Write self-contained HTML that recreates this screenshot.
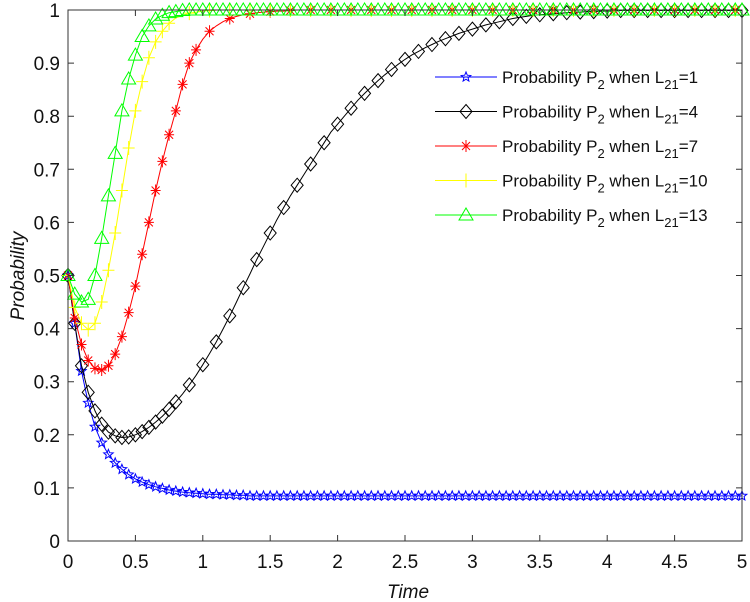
<!DOCTYPE html>
<html><head><meta charset="utf-8"><style>
body{margin:0;background:#fff;}
svg{display:block;font-family:"Liberation Sans",Arial,sans-serif;}
</style></head><body>
<svg id="chart" width="750" height="602" viewBox="0 0 750 602" xmlns="http://www.w3.org/2000/svg">
<rect x="0" y="0" width="750" height="602" fill="#fff"/>
<g id="series"></g>
<g id="axes"></g>
<text x="0" y="0" transform="translate(24,276) rotate(-90)" text-anchor="middle" font-size="19" font-style="italic" fill="#111">Probability</text>
<text x="408" y="598" text-anchor="middle" font-size="19" font-style="italic" fill="#111">Time</text>
<g id="legend"></g>
</svg>
<script>
const times = [0,0.05,0.1,0.15,0.2,0.25,0.3,0.35,0.4,0.45,0.5,0.55,0.6,0.65,0.7,0.75,0.8,0.85,0.9,0.95,
1,1.05,1.1,1.15,1.2,1.25,1.3,1.35,1.4,1.45,1.5,1.55,1.6,1.65,1.7,1.75,1.8,1.85,1.9,1.95,
2,2.05,2.1,2.15,2.2,2.25,2.3,2.35,2.4,2.45,2.5,2.55,2.6,2.65,2.7,2.75,2.8,2.85,2.9,2.95,
3,3.05,3.1,3.15,3.2,3.25,3.3,3.35,3.4,3.45,3.5,3.55,3.6,3.65,3.7,3.75,3.8,3.85,3.9,3.95,
4,4.05,4.1,4.15,4.2,4.25,4.3,4.35,4.4,4.45,4.5,4.55,4.6,4.65,4.7,4.75,4.8,4.85,4.9,4.95,5];
const blueL1 = [0.5,0.41,0.32,0.26,0.215,0.185,0.163,0.147,0.135,0.125,
0.117,0.111,0.106,0.102,0.099,0.096,0.094,0.092,0.091,0.09,
0.089,0.088,0.088,0.087,0.087,0.086,0.086,0.085,0.085,0.085,
0.085,0.085,0.085,0.085,0.085,0.085,0.085,0.085,0.085,0.085,
0.085,0.085,0.085,0.085,0.085,0.085,0.085,0.085,0.085,0.085,
0.085,0.085,0.085,0.085,0.085,0.085,0.085,0.085,0.085,0.085,
0.085,0.085,0.085,0.085,0.085,0.085,0.085,0.085,0.085,0.085,
0.085,0.085,0.085,0.085,0.085,0.085,0.085,0.085,0.085,0.085,
0.085,0.085,0.085,0.085,0.085,0.085,0.085,0.085,0.085,0.085,
0.085,0.085,0.085,0.085,0.085,0.085,0.085,0.085,0.085,0.085,0.085];
const blackL4 = [0.5,0.41,0.33,0.28,0.245,0.22,0.205,0.198,0.195,0.196,
0.2,0.206,0.214,0.224,0.235,0.248,0.262,0.277,0.294,0.312,
0.332,0.353,0.375,0.399,0.424,0.45,0.477,0.503,0.53,0.555,
0.58,0.605,0.628,0.65,0.67,0.69,0.71,0.73,0.75,0.77,
0.785,0.8,0.815,0.83,0.843,0.855,0.867,0.878,0.888,0.898,
0.907,0.915,0.922,0.929,0.935,0.941,0.946,0.951,0.956,0.96,
0.964,0.968,0.972,0.975,0.978,0.981,0.984,0.986,0.988,0.99,
0.991,0.992,0.993,0.994,0.995,0.996,0.996,0.997,0.997,0.998,
0.998,0.998,0.999,0.999,0.999,0.999,0.999,0.999,0.999,0.999,
0.999,0.999,0.999,0.999,0.999,0.999,0.999,0.999,0.999,0.999,0.999];
const redL7 = [0.5,0.42,0.37,0.34,0.325,0.322,0.33,0.352,0.385,0.43,
0.48,0.54,0.6,0.66,0.715,0.765,0.81,0.86,0.9,0.925,
0.945,0.96,0.97,0.978,0.984,0.988,0.991,0.993,0.995,0.996,
0.997,0.998,0.998,0.999,1,1,1,1,1,1,
1,1,1,1,1,1,1,1,1,1, 1,1,1,1,1,1,1,1,1,1, 1,1,1,1,1,1,1,1,1,1,
1,1,1,1,1,1,1,1,1,1, 1,1,1,1,1,1,1,1,1,1, 1,1,1,1,1,1,1,1,1,1, 1];
const yellowL10 = [0.5,0.44,0.41,0.398,0.41,0.45,0.51,0.58,0.66,0.74,
0.81,0.865,0.91,0.94,0.96,0.975,0.985,0.99,0.994,0.996,
0.998,0.999,1,1,1,1,1,1,1,1,
1,1,1,1,1,1,1,1,1,1, 1,1,1,1,1,1,1,1,1,1, 1,1,1,1,1,1,1,1,1,1, 1,1,1,1,1,1,1,1,1,1,
1,1,1,1,1,1,1,1,1,1, 1,1,1,1,1,1,1,1,1,1, 1,1,1,1,1,1,1,1,1,1, 1];
const greenL13 = [0.5,0.465,0.45,0.455,0.5,0.57,0.65,0.73,0.81,0.87,
0.915,0.95,0.97,0.983,0.99,0.995,0.997,0.999,1,1,
1,1,1,1,1,1,1,1,1,1, 1,1,1,1,1,1,1,1,1,1, 1,1,1,1,1,1,1,1,1,1, 1,1,1,1,1,1,1,1,1,1,
1,1,1,1,1,1,1,1,1,1, 1,1,1,1,1,1,1,1,1,1, 1,1,1,1,1,1,1,1,1,1, 1,1,1,1,1,1,1,1,1,1, 1];
const xTicks = [0,0.5,1,1.5,2,2.5,3,3.5,4,4.5,5];
const xTickLabels = ["0","0.5","1","1.5","2","2.5","3","3.5","4","4.5","5"];
const yTicks = [0,0.1,0.2,0.3,0.4,0.5,0.6,0.7,0.8,0.9,1];
const yTickLabels = ["0","0.1","0.2","0.3","0.4","0.5","0.6","0.7","0.8","0.9","1"];
const legendLabels = ["1","4","7","10","13"];

const NS="http://www.w3.org/2000/svg";
const L=68,R=742,T=10,B=541;
const xs=t=>L+(t-0)/(5-0)*(R-L);
const ys=v=>B-(v-0)/(1-0)*(B-T);
function mk(tag,attrs,parent){const e=document.createElementNS(NS,tag);for(const k in attrs)e.setAttribute(k,attrs[k]);parent.appendChild(e);return e;}

function marker(kind,x,y,color,parent){
  let e;
  if(kind==='star'){
    let p=[];for(let i=0;i<10;i++){const r=i%2?2.2:5;const a=-Math.PI/2+i*Math.PI/5;p.push((x+r*Math.cos(a)).toFixed(1)+','+(y+r*Math.sin(a)).toFixed(1));}
    e=mk('polygon',{points:p.join(' '),fill:'none',stroke:color,'stroke-width':1},parent);
  }else if(kind==='diamond'){
    e=mk('polygon',{points:`${x},${y-7} ${x+6},${y} ${x},${y+7} ${x-6},${y}`,fill:'none',stroke:color,'stroke-width':1},parent);
  }else if(kind==='asterisk'){
    const d=`M${x-5},${y}L${x+5},${y}M${x},${y-6}L${x},${y+6}M${x-4},${y-4}L${x+4},${y+4}M${x-4},${y+4}L${x+4},${y-4}`;
    e=mk('path',{d:d,fill:'none',stroke:color,'stroke-width':1},parent);
  }else if(kind==='plus'){
    const d=`M${x-6},${y}L${x+6},${y}M${x},${y-7}L${x},${y+7}`;
    e=mk('path',{d:d,fill:'none',stroke:color,'stroke-width':1},parent);
  }else{
    e=mk('polygon',{points:`${x},${y-7} ${x+7},${y+5} ${x-7},${y+5}`,fill:'none',stroke:color,'stroke-width':1},parent);
  }
  return e;
}

const series=[
 {vals:blueL1,color:'#0000ff',kind:'star',name:'series-l21-1',sparseFrom:999,stride:1},
 {vals:blackL4,color:'#000000',kind:'diamond',name:'series-l21-4',sparseFrom:0.8,stride:2},
 {vals:redL7,color:'#ff0000',kind:'asterisk',name:'series-l21-7',sparseFrom:1.0,stride:3},
 {vals:yellowL10,color:'#ffff00',kind:'plus',name:'series-l21-10',sparseFrom:0.8,stride:3},
 {vals:greenL13,color:'#00ff00',kind:'triangle',name:'series-l21-13',sparseFrom:999,stride:1}
];
const sg=document.getElementById('series');
series.forEach(s=>{
  const g=mk('g',{},sg);
  
  
  const d=s.vals.map((v,i)=>(i?'L':'M')+xs(times[i]).toFixed(1)+','+ys(v).toFixed(1)).join('');
  const p=mk('path',{d:d,fill:'none',stroke:s.color,'stroke-width':1},g);
  
  
  s.vals.forEach((v,i)=>{
    if(times[i]>=s.sparseFrom && i%s.stride!==0) return;
    const m=marker(s.kind,xs(times[i]),ys(v),s.color,g);
    
    
  });
});

const ag=document.getElementById('axes');
const frame=mk('rect',{x:L,y:T,width:R-L,height:B-T,fill:'none',stroke:'#333','stroke-width':1},ag);


xTicks.forEach((t,i)=>{
  const x=xs(t);
  mk('path',{d:`M${x},${B}L${x},${B-6}M${x},${T}L${x},${T+6}`,stroke:'#333','stroke-width':1},ag);
  const tx=mk('text',{x:x,y:B+27,'text-anchor':'middle','font-size':19,fill:'#111'},ag);
  tx.textContent=xTickLabels[i];
  
  
});
yTicks.forEach((v,i)=>{
  const y=ys(v);
  mk('path',{d:`M${L},${y}L${L+6},${y}M${R},${y}L${R-6},${y}`,stroke:'#333','stroke-width':1},ag);
  const tx=mk('text',{x:L-8,y:y+7,'text-anchor':'end','font-size':19,fill:'#111'},ag);
  tx.textContent=yTickLabels[i];
  
  
});

const lg=document.getElementById('legend');
series.forEach((s,i)=>{
  const y=77+i*34.5;
  const g=mk('g',{},lg);
  
  
  mk('line',{x1:435,y1:y,x2:497,y2:y,stroke:s.color,'stroke-width':1},g);
  marker(s.kind,466,y,s.color,g);
  const t=mk('text',{x:502,y:y+6,'font-size':17,fill:'#111'},g);
  const a=document.createElementNS(NS,'tspan');a.textContent='Probability P';t.appendChild(a);
  const b=document.createElementNS(NS,'tspan');b.setAttribute('dy','6');b.setAttribute('font-size','13');b.textContent='2';t.appendChild(b);
  const c=document.createElementNS(NS,'tspan');c.setAttribute('dy','-6');c.textContent=' when L';t.appendChild(c);
  const d=document.createElementNS(NS,'tspan');d.setAttribute('dy','6');d.setAttribute('font-size','13');d.textContent='21';t.appendChild(d);
  const e=document.createElementNS(NS,'tspan');e.setAttribute('dy','-6');e.textContent='='+legendLabels[i];t.appendChild(e);
});
</script>
</body></html>
